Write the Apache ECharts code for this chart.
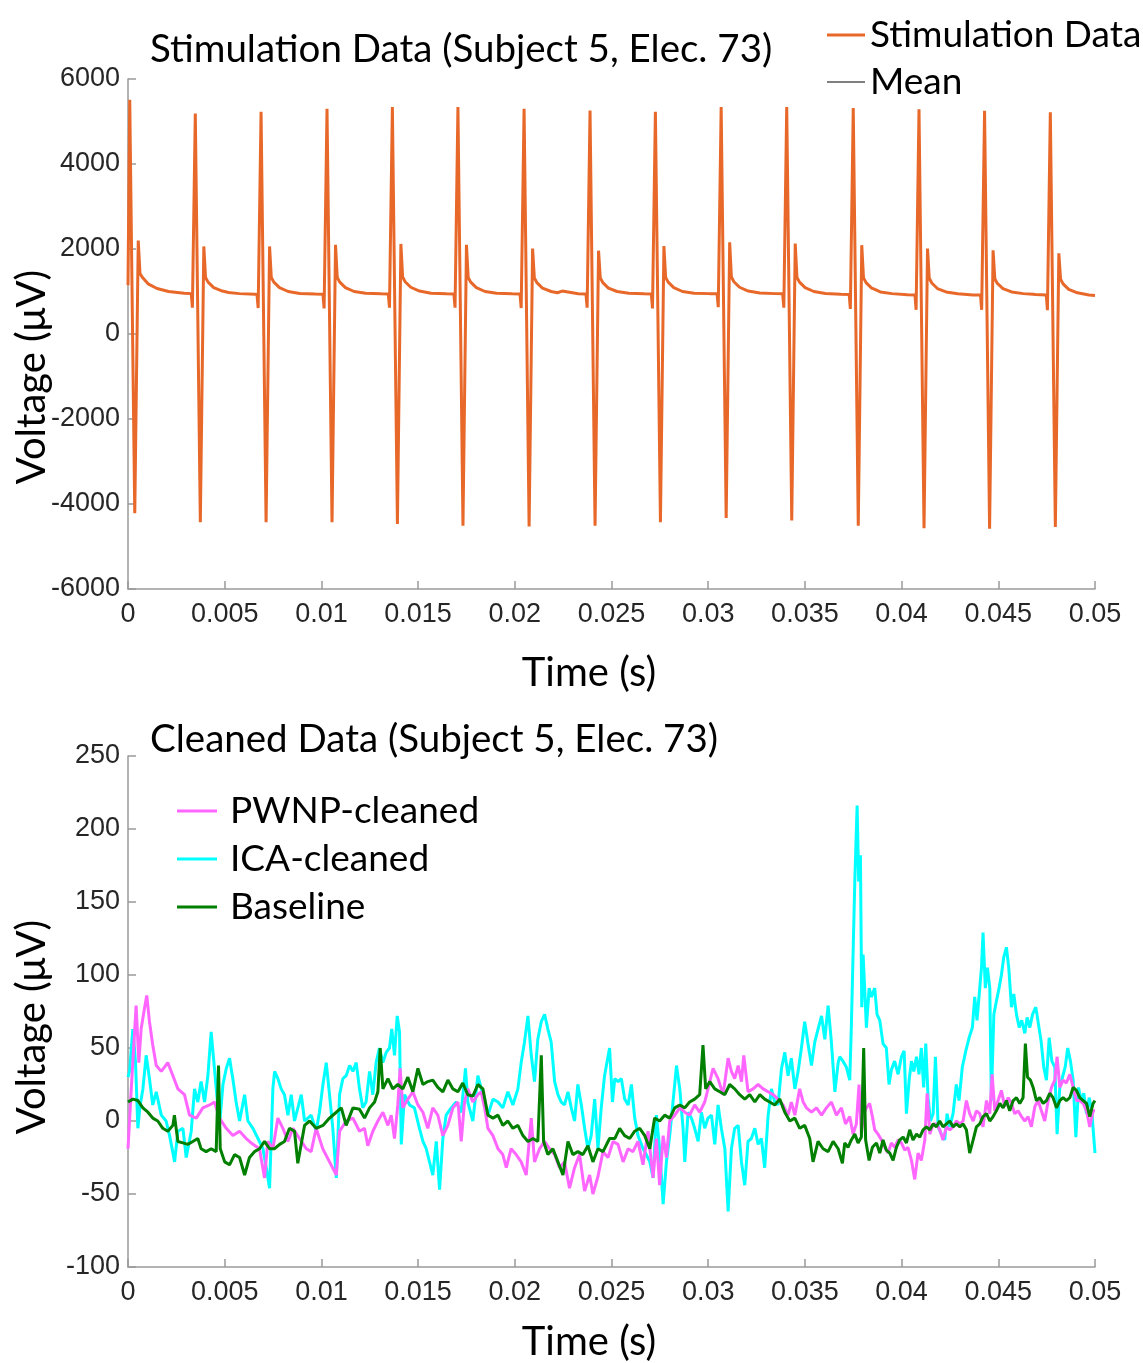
<!DOCTYPE html>
<html><head><meta charset="utf-8">
<script src="https://cdn.jsdelivr.net/npm/echarts@6/dist/echarts.min.js"></script>
<style>html,body{margin:0;padding:0;background:#fff}#chart{width:1143px;height:1363px}</style>
</head><body><div id="chart"></div><script>
// ---- Top panel: stimulation data [time (s), voltage (uV)] ----
const stimData = [
[0,1150],[0.00009,5510],[0.00035,-4220],[0.00053,2200],[0.00062,1420],[0.00075,1330],[0.00104,1180],[0.0015,1070],[0.0021,1000],[0.0029,960],[0.00327,950],
[0.00333,620],[0.00348,5190],[0.00374,-4430],[0.00392,2060],[0.00401,1330],[0.00414,1220],[0.00443,1090],[0.00488,1010],[0.0052,975],[0.00524,1010],[0.00529,970],[0.00576,950],[0.00656,935],[0.00667,930],
[0.00673,610],[0.00688,5230],[0.00714,-4430],[0.00732,2060],[0.00741,1330],[0.00754,1220],[0.00783,1090],[0.00828,1000],[0.00888,955],[0.00968,940],[0.01008,935],
[0.01014,600],[0.01029,5300],[0.01055,-4430],[0.01073,2100],[0.01082,1330],[0.01095,1220],[0.01124,1090],[0.01169,1000],[0.01229,960],[0.01309,945],[0.01346,940],
[0.01352,620],[0.01367,5340],[0.01393,-4470],[0.01411,2120],[0.0142,1340],[0.01433,1230],[0.01462,1100],[0.01507,1010],[0.01567,960],[0.01647,945],[0.01685,940],
[0.01691,620],[0.01706,5340],[0.01732,-4510],[0.0175,2100],[0.01759,1330],[0.01772,1220],[0.01801,1090],[0.01846,1000],[0.01906,960],[0.01986,945],[0.02027,940],
[0.02033,610],[0.02048,5300],[0.02074,-4530],[0.02092,2010],[0.02101,1320],[0.02114,1210],[0.02143,1080],[0.02188,1000],[0.0222,970],[0.02245,1010],[0.02252,970],[0.02328,945],[0.02368,940],
[0.02374,620],[0.02389,5260],[0.02415,-4510],[0.02433,1960],[0.02442,1320],[0.02455,1210],[0.02484,1080],[0.02529,1000],[0.02589,960],[0.02669,945],[0.02706,940],
[0.02712,600],[0.02727,5230],[0.02753,-4430],[0.02771,2070],[0.0278,1330],[0.02793,1220],[0.02822,1090],[0.02867,1000],[0.02927,960],[0.03007,950],[0.03015,975],[0.0302,950],[0.03046,945],
[0.03052,630],[0.03067,5340],[0.03093,-4330],[0.03111,2160],[0.0312,1340],[0.03133,1230],[0.03162,1100],[0.03207,1010],[0.03267,965],[0.03347,950],[0.03385,945],
[0.03391,620],[0.03406,5340],[0.03432,-4390],[0.0345,2130],[0.03459,1330],[0.03472,1220],[0.03501,1090],[0.03546,1000],[0.03606,955],[0.03686,935],[0.03729,930],
[0.03735,590],[0.0375,5320],[0.03776,-4510],[0.03794,2090],[0.03803,1320],[0.03816,1210],[0.03845,1080],[0.0385,1110],[0.03856,1060],[0.0389,990],[0.0395,950],[0.0403,925],[0.04069,920],
[0.04075,570],[0.0409,5290],[0.04116,-4570],[0.04134,2010],[0.04143,1310],[0.04156,1200],[0.04185,1070],[0.0423,990],[0.0429,945],[0.0437,920],[0.04408,915],
[0.04414,570],[0.04429,5250],[0.04455,-4580],[0.04473,1970],[0.04482,1300],[0.04495,1190],[0.04524,1070],[0.04569,990],[0.04629,950],[0.0468,935],[0.04686,960],[0.04692,930],[0.04748,920],
[0.04754,560],[0.04769,5220],[0.04795,-4540],[0.04813,1900],[0.04822,1290],[0.04835,1180],[0.04864,1050],[0.04909,970],[0.04969,920],[0.05,905]
];
const meanData = [];

// ---- Bottom panel: cleaned data [time (s), voltage (uV)] ----
const pwnpData = [
[0,-19],[0.00016,20],[0.00042,79],[0.00056,40],[0.00068,63],[0.00085,77],[0.00097,86],[0.00111,68],[0.00128,52],[0.00146,38],[0.00172,34],[0.00206,40],[0.00232,31],[0.00258,22],[0.00292,18],[0.00318,4],[0.00353,2],[0.00387,9],[0.00422,11],[0.00447,13],[0.00473,2],[0.00508,-5],[0.00542,-10],[0.00577,-7],[0.00611,-12],[0.00646,-16],[0.0068,-19],[0.00706,-39],[0.00723,-14],[0.00749,-19],[0.00775,2],[0.00801,-5],[0.00827,-14],[0.00853,-5],[0.00887,-12],[0.00922,-19],[0.00947,-21],[0.00973,-5],[0.01007,-19],[0.01042,-28],[0.01077,-37],[0.01094,-7],[0.01128,0],[0.01163,2],[0.01197,-7],[0.01223,-5],[0.0124,-17],[0.01266,-7],[0.01292,0],[0.01318,6],[0.01344,-3],[0.01361,4],[0.01378,-12],[0.01395,11],[0.01407,36],[0.01421,9],[0.01447,15],[0.01473,20],[0.01499,11],[0.01525,6],[0.0155,-5],[0.01576,9],[0.01602,4],[0.01628,-10],[0.01654,-3],[0.0168,9],[0.01706,13],[0.01723,-14],[0.0174,13],[0.01757,22],[0.01783,13],[0.01809,18],[0.01826,20],[0.01844,9],[0.01861,-5],[0.01887,-10],[0.01913,-19],[0.01938,-23],[0.01956,-32],[0.01981,-19],[0.02007,-23],[0.02033,-28],[0.02059,-37],[0.02085,2],[0.02102,-28],[0.02128,-19],[0.02154,-14],[0.0218,-19],[0.02206,-23],[0.02231,-32],[0.02257,-28],[0.02283,-46],[0.02309,-32],[0.02335,-23],[0.02361,-48],[0.02387,-37],[0.02404,-50],[0.0243,-38],[0.02456,-21],[0.02482,-25],[0.02508,-14],[0.02534,-16],[0.0256,-28],[0.02586,-19],[0.02611,-21],[0.02637,-14],[0.02663,-30],[0.02689,-7],[0.02715,-39],[0.02732,-12],[0.02749,-44],[0.02767,-10],[0.02784,-25],[0.02801,0],[0.02827,4],[0.02853,9],[0.02879,6],[0.02904,4],[0.0293,11],[0.02956,6],[0.02982,13],[0.02999,22],[0.03025,36],[0.03051,29],[0.03077,18],[0.03103,43],[0.0312,34],[0.03137,29],[0.03155,38],[0.03172,27],[0.03184,45],[0.03206,20],[0.03232,22],[0.03258,25],[0.03284,22],[0.0331,20],[0.03336,18],[0.03361,15],[0.03387,11],[0.03413,4],[0.0343,13],[0.03448,4],[0.03473,22],[0.03491,13],[0.03508,9],[0.03534,6],[0.0356,9],[0.03586,4],[0.03611,9],[0.03637,13],[0.03663,4],[0.03689,9],[0.0371,-2],[0.03732,3],[0.03749,-9],[0.03766,-2],[0.0378,25],[0.03792,-9],[0.03804,5],[0.03818,9],[0.03835,12],[0.03849,3],[0.03861,-6],[0.03878,-9],[0.03896,-13],[0.03913,-18],[0.0393,-22],[0.03947,-15],[0.03964,-18],[0.03982,-13],[0.03999,-15],[0.04016,-20],[0.04033,-18],[0.04051,-27],[0.04068,-40],[0.04085,-22],[0.04102,-27],[0.0412,-13],[0.04132,19],[0.04146,-9],[0.04163,-2],[0.0418,-2],[0.04197,-6],[0.04214,-13],[0.04232,-4],[0.04249,-6],[0.04266,-4],[0.04283,0],[0.04301,-2],[0.04318,0],[0.04335,14],[0.04352,5],[0.0437,0],[0.04387,7],[0.04404,5],[0.04421,-4],[0.04439,14],[0.04456,5],[0.04468,32],[0.04482,7],[0.04499,14],[0.04516,21],[0.04533,10],[0.04551,16],[0.04568,12],[0.04585,5],[0.04602,7],[0.0462,3],[0.04637,0],[0.04654,3],[0.04671,-4],[0.04689,10],[0.04706,14],[0.04723,7],[0.0474,0],[0.04758,14],[0.04775,23],[0.04792,28],[0.04804,44],[0.04818,23],[0.04835,28],[0.04852,26],[0.0487,32],[0.04887,23],[0.04904,14],[0.04921,14],[0.04939,12],[0.04956,7],[0.04973,-4],[0.0499,7],[0.05,7]
];
const icaData = [
[0,30],[0.00008,34],[0.00025,63],[0.00039,40],[0.00051,-5],[0.00063,11],[0.00077,22],[0.00094,45],[0.00111,29],[0.00128,11],[0.00146,20],[0.00172,4],[0.00197,0],[0.00215,-10],[0.00241,-28],[0.00258,-7],[0.00284,-5],[0.00301,-25],[0.00327,-7],[0.00344,22],[0.00361,13],[0.00378,27],[0.00396,13],[0.00413,31],[0.0043,61],[0.00447,36],[0.00459,18],[0.00473,-3],[0.00491,25],[0.00508,36],[0.00525,43],[0.00542,29],[0.00559,13],[0.00577,0],[0.00603,18],[0.0062,0],[0.00646,-5],[0.00672,-12],[0.00698,-19],[0.00715,-32],[0.00732,-46],[0.00749,22],[0.00758,34],[0.00775,29],[0.00792,22],[0.00809,18],[0.00827,4],[0.00844,18],[0.00861,0],[0.00896,18],[0.00913,0],[0.00947,4],[0.00973,-7],[0.0099,6],[0.01008,25],[0.01025,40],[0.01042,18],[0.01059,-5],[0.01077,-39],[0.01094,18],[0.01111,29],[0.01128,31],[0.01146,38],[0.01163,34],[0.0118,40],[0.01197,22],[0.01214,9],[0.01231,13],[0.01249,34],[0.01266,18],[0.01283,40],[0.013,50],[0.01318,40],[0.01335,47],[0.01352,50],[0.01364,63],[0.01378,45],[0.01392,72],[0.01404,61],[0.01413,-16],[0.0143,18],[0.01456,11],[0.01481,9],[0.01507,-5],[0.01525,-14],[0.01542,-19],[0.01559,-28],[0.01576,-37],[0.01594,-14],[0.01611,-47],[0.01628,-12],[0.01645,4],[0.01671,9],[0.01697,13],[0.01723,6],[0.01745,36],[0.01757,13],[0.01783,0],[0.01809,31],[0.01835,18],[0.01861,4],[0.01887,15],[0.01913,13],[0.01938,9],[0.01964,20],[0.0199,11],[0.02016,22],[0.02033,40],[0.0205,54],[0.02068,72],[0.02085,45],[0.02102,27],[0.02119,56],[0.02137,68],[0.02154,73],[0.02171,63],[0.02188,54],[0.02206,27],[0.02223,18],[0.0224,13],[0.02257,11],[0.02275,20],[0.02292,9],[0.02309,0],[0.02326,25],[0.02344,11],[0.02361,-5],[0.02378,-19],[0.02395,-10],[0.02413,15],[0.0243,-19],[0.02447,9],[0.02464,31],[0.0249,50],[0.02505,13],[0.02517,29],[0.02534,27],[0.02551,29],[0.02568,15],[0.02586,11],[0.02603,25],[0.0262,2],[0.02637,-10],[0.02663,-19],[0.0268,-23],[0.02698,-28],[0.02715,-39],[0.02732,4],[0.02749,-19],[0.02767,-57],[0.02784,-28],[0.02801,-10],[0.02818,13],[0.02836,38],[0.02853,22],[0.0287,-5],[0.02879,-28],[0.02896,6],[0.02913,2],[0.0293,-5],[0.02948,-14],[0.02965,6],[0.02982,-5],[0.02999,2],[0.03017,4],[0.03034,-16],[0.03051,11],[0.03068,-5],[0.03086,-19],[0.03103,-62],[0.0312,-19],[0.03137,-5],[0.03155,-3],[0.03172,-28],[0.03189,-44],[0.03206,-14],[0.03223,-12],[0.03241,-5],[0.03258,-16],[0.03275,-12],[0.03292,-32],[0.0331,4],[0.03327,22],[0.03344,13],[0.03361,11],[0.03379,36],[0.03396,47],[0.03413,31],[0.0343,43],[0.03448,22],[0.03465,34],[0.03482,50],[0.03499,68],[0.03517,52],[0.03534,38],[0.03551,54],[0.03568,63],[0.03586,72],[0.03603,56],[0.0362,79],[0.03637,54],[0.03655,20],[0.03672,40],[0.0368,44],[0.03697,41],[0.03714,37],[0.03732,28],[0.0374,64],[0.03758,164],[0.0377,216],[0.03778,164],[0.03787,182],[0.03794,78],[0.03801,114],[0.03809,91],[0.03818,64],[0.03832,91],[0.03844,85],[0.03861,91],[0.03873,73],[0.03887,69],[0.03904,53],[0.03921,50],[0.03935,25],[0.03947,35],[0.03964,41],[0.03982,32],[0.03999,44],[0.04013,48],[0.04025,5],[0.04039,28],[0.04051,41],[0.04063,34],[0.04077,44],[0.0409,32],[0.04102,50],[0.04114,23],[0.04125,53],[0.04137,16],[0.04149,0],[0.04163,5],[0.04175,44],[0.04189,-4],[0.04206,-9],[0.04223,-13],[0.04235,5],[0.04249,-4],[0.04266,5],[0.04283,25],[0.04297,14],[0.04314,37],[0.04332,48],[0.04349,57],[0.04366,64],[0.04378,85],[0.0439,69],[0.04404,91],[0.04413,105],[0.04421,129],[0.04433,91],[0.04444,105],[0.04456,91],[0.04464,14],[0.04477,73],[0.0449,82],[0.04504,91],[0.04516,100],[0.04528,112],[0.04542,119],[0.04554,105],[0.04568,78],[0.0458,87],[0.04594,73],[0.04608,64],[0.04621,69],[0.04637,60],[0.04649,71],[0.04663,64],[0.04677,73],[0.04694,78],[0.04708,66],[0.04721,55],[0.04735,37],[0.04749,28],[0.04763,57],[0.04777,41],[0.04792,37],[0.04804,-9],[0.04818,23],[0.04832,30],[0.04846,37],[0.04859,50],[0.04873,41],[0.04887,28],[0.04901,-11],[0.04915,23],[0.04928,14],[0.04942,19],[0.04956,5],[0.0497,16],[0.04983,7],[0.05,-22]
];
const baselineData = [
[0,13],[0.00025,15],[0.00051,14],[0.00077,9],[0.00103,6],[0.00128,2],[0.00154,0],[0.0018,-5],[0.00206,-7],[0.00232,-3],[0.0024,4],[0.00258,-14],[0.00284,-15],[0.00309,-16],[0.00335,-14],[0.00361,-12],[0.00378,-19],[0.00404,-21],[0.0043,-19],[0.00456,-21],[0.00468,38],[0.00477,-19],[0.005,-28],[0.00525,-30],[0.00551,-23],[0.00577,-25],[0.00603,-37],[0.00628,-25],[0.00654,-21],[0.0068,-19],[0.00706,-14],[0.00732,-19],[0.00758,-19],[0.00784,-16],[0.00809,-14],[0.00835,-5],[0.00861,-7],[0.00878,-29],[0.00913,-3],[0.00939,0],[0.00973,-5],[0.01008,-3],[0.01042,2],[0.01077,6],[0.01103,9],[0.01128,-3],[0.01163,9],[0.01197,8],[0.01223,2],[0.01249,9],[0.01275,13],[0.01292,20],[0.01304,50],[0.01318,22],[0.01344,29],[0.01369,22],[0.01395,25],[0.01421,22],[0.01447,30],[0.01473,20],[0.01499,36],[0.01525,25],[0.0155,27],[0.01576,28],[0.01602,23],[0.01628,20],[0.01654,28],[0.0168,22],[0.01706,20],[0.01731,26],[0.01757,18],[0.01783,17],[0.01809,25],[0.01835,22],[0.01861,4],[0.01887,2],[0.01913,4],[0.01938,-3],[0.01964,0],[0.0199,-5],[0.02016,-3],[0.02042,-10],[0.02068,-14],[0.02094,-12],[0.02119,-14],[0.02137,45],[0.02149,-14],[0.02171,-23],[0.02197,-19],[0.02223,-28],[0.02249,-37],[0.02275,-14],[0.023,-23],[0.02326,-21],[0.02352,-23],[0.02378,-17],[0.02404,-28],[0.0243,-19],[0.02456,-21],[0.0249,-12],[0.02517,-12],[0.02542,-5],[0.02568,-10],[0.02594,-12],[0.0262,-7],[0.02646,-5],[0.02672,-10],[0.02698,-19],[0.02723,2],[0.02749,0],[0.02775,4],[0.02801,2],[0.02827,9],[0.02853,11],[0.02879,9],[0.02904,13],[0.0293,15],[0.02956,18],[0.02973,52],[0.02987,22],[0.03008,27],[0.03034,22],[0.0306,20],[0.03086,18],[0.03111,25],[0.03137,22],[0.03163,18],[0.03189,15],[0.03215,18],[0.03241,13],[0.03267,18],[0.03292,15],[0.03318,13],[0.03344,11],[0.0337,15],[0.03396,6],[0.03422,0],[0.03448,2],[0.03473,-5],[0.03499,-3],[0.03525,-12],[0.03542,-28],[0.03568,-14],[0.03594,-19],[0.0362,-21],[0.03646,-14],[0.03672,-19],[0.03694,-29],[0.03706,-15],[0.03723,-18],[0.0374,-13],[0.03758,-9],[0.03775,-15],[0.03792,-11],[0.03804,50],[0.03814,-13],[0.03832,-27],[0.03849,-18],[0.0387,-15],[0.03887,-22],[0.03904,-13],[0.03921,-20],[0.03939,-22],[0.03956,-27],[0.03973,-18],[0.0399,-13],[0.04008,-11],[0.04025,-15],[0.04042,-6],[0.04059,-13],[0.04077,-9],[0.04094,-11],[0.04111,-6],[0.04128,-4],[0.04146,-6],[0.04163,-2],[0.0418,-4],[0.04197,0],[0.04214,-4],[0.04232,-2],[0.04249,0],[0.04266,-4],[0.04283,-2],[0.04301,-4],[0.04318,-2],[0.04335,-6],[0.04352,-22],[0.0437,-13],[0.04387,-4],[0.04404,-2],[0.04421,3],[0.04439,5],[0.04456,0],[0.04473,3],[0.0449,7],[0.04508,12],[0.04525,9],[0.04542,14],[0.04559,7],[0.04577,14],[0.04594,16],[0.04611,12],[0.04628,16],[0.0464,53],[0.04651,30],[0.04666,28],[0.0468,23],[0.04697,14],[0.04714,16],[0.04732,12],[0.04749,14],[0.04766,19],[0.04783,16],[0.04801,9],[0.04818,14],[0.04835,16],[0.04852,14],[0.0487,16],[0.04887,23],[0.04904,21],[0.04921,16],[0.04939,14],[0.04956,12],[0.04973,3],[0.0499,12],[0.05,14]
];

// ---- Texts and axis ranges ----
const topTitle = 'Stimulation Data (Subject 5, Elec. 73)';
const bottomTitle = 'Cleaned Data (Subject 5, Elec. 73)';
const xName = 'Time (s)';
const yName = 'Voltage (\u03BCV)';
const bottomLegend = ['PWNP-cleaned', 'ICA-cleaned', 'Baseline'];
const xRange = [0, 0.05, 0.005];
const yTopRange = [-6000, 6000, 2000];
const yBottomRange = [-100, 250, 50];

const TICK_FONT = "'Liberation Sans', Arial, sans-serif";
const TEXT_FONT = "Lato, 'Open Sans', sans-serif";
const AX = '#9a9a9a';

function xAxisCfg(gi, margin) {
  return {
    type: 'value', gridIndex: gi, min: xRange[0], max: xRange[1], interval: xRange[2],
    axisLine: { show: true, onZero: false, lineStyle: { color: AX, width: 1.5 } },
    axisTick: { show: true, inside: true, length: 8, lineStyle: { color: AX, width: 1.5 } },
    axisLabel: { color: '#262626', fontFamily: TICK_FONT, fontSize: 27, margin: margin,
      formatter: v => String(parseFloat(v.toFixed(4))) },
    splitLine: { show: false }
  };
}
function yAxisCfg(gi, r) {
  return {
    type: 'value', gridIndex: gi, min: r[0], max: r[1], interval: r[2],
    axisLine: { show: true, onZero: false, lineStyle: { color: AX, width: 1.5 } },
    axisTick: { show: true, inside: true, length: 8, lineStyle: { color: AX, width: 1.5 } },
    axisLabel: { color: '#262626', fontFamily: TICK_FONT, fontSize: 27, margin: 8,
      formatter: v => String(v) },
    splitLine: { show: false }
  };
}
function textEl(txt, x, y, size, rot, align) {
  return { type: 'text', x: x, y: y, rotation: rot || 0, z: 10,
    style: { text: txt, fill: '#000', fontSize: size, fontFamily: TEXT_FONT,
      align: align, verticalAlign: 'middle' } };
}
const legendText = { fontFamily: TEXT_FONT, fontSize: 37, color: '#000', lineHeight: 40 };

const chart = echarts.init(document.getElementById('chart'), null, { renderer: 'canvas' });
chart.setOption({
  animation: false,
  backgroundColor: '#fff',
  grid: [
    { left: 128, right: 48, top: 79, height: 510, outerBoundsMode: 'none' },
    { left: 128, right: 48, top: 756, height: 511, outerBoundsMode: 'none' }
  ],
  xAxis: [xAxisCfg(0, 12), xAxisCfg(1, 12)],
  yAxis: [yAxisCfg(0, yTopRange), yAxisCfg(1, yBottomRange)],
  legend: [
    { data: ['Stimulation Data'], left: 822, top: 10, icon: 'rect', itemWidth: 38, itemHeight: 3,
      textStyle: legendText },
    { data: ['Mean'], left: 822, top: 57, icon: 'rect', itemWidth: 38, itemHeight: 1.2,
      textStyle: legendText },
    { data: bottomLegend, orient: 'vertical', left: 172, top: 786, icon: 'rect', itemWidth: 40, itemHeight: 3,
      itemGap: 8, textStyle: Object.assign({ padding: [0, 0, 0, 8] }, legendText) }
  ],
  graphic: [
    textEl(topTitle, 150, 50, 38.5, 0, 'left'),
    textEl(bottomTitle, 150, 740, 38.5, 0, 'left'),
    textEl(xName, 589, 673, 40, 0, 'center'),
    textEl(xName, 589, 1342, 40, 0, 'center'),
    textEl(yName, 32, 377, 40, Math.PI / 2, 'center'),
    textEl(yName, 32, 1027, 40, Math.PI / 2, 'center')
  ],
  series: [
    { name: 'Mean', type: 'line', xAxisIndex: 0, yAxisIndex: 0, data: meanData, symbol: 'none',
      color: '#000', lineStyle: { color: '#000', width: 1 } },
    { name: 'Stimulation Data', type: 'line', xAxisIndex: 0, yAxisIndex: 0, data: stimData, symbol: 'none',
      color: '#E8682A', lineStyle: { color: '#E8682A', width: 3 }, z: 3 },
    { name: 'PWNP-cleaned', type: 'line', xAxisIndex: 1, yAxisIndex: 1, data: pwnpData, symbol: 'none',
      color: '#FF66FF', lineStyle: { color: '#FF66FF', width: 3 }, z: 3 },
    { name: 'ICA-cleaned', type: 'line', xAxisIndex: 1, yAxisIndex: 1, data: icaData, symbol: 'none',
      color: '#00FFFF', lineStyle: { color: '#00FFFF', width: 3 }, z: 2 },
    { name: 'Baseline', type: 'line', xAxisIndex: 1, yAxisIndex: 1, data: baselineData, symbol: 'none',
      color: '#007F00', lineStyle: { color: '#007F00', width: 3 }, z: 4 }
  ]
});
</script></body></html>
